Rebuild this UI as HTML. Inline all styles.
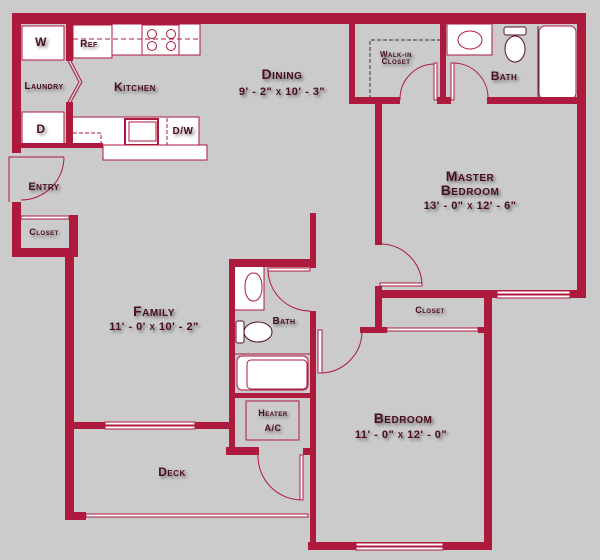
<!DOCTYPE html>
<html><head><style>
html,body{margin:0;padding:0;background:#cbcbcb;}
svg{display:block;}
text{font-family:"Liberation Sans",sans-serif;font-weight:bold;fill:#4a0f1e;font-variant:small-caps;text-anchor:middle;letter-spacing:0.5px;}
</style></head><body>
<svg width="600" height="560" viewBox="0 0 600 560" xmlns="http://www.w3.org/2000/svg">
<defs><filter id="sh" x="-20%" y="-50%" width="140%" height="200%"><feGaussianBlur in="SourceAlpha" stdDeviation="1.5"/><feOffset dx="2" dy="2"/><feComponentTransfer><feFuncA type="linear" slope="0.5"/></feComponentTransfer><feMerge><feMergeNode/><feMergeNode in="SourceGraphic"/></feMerge></filter></defs>
<rect width="600" height="560" fill="#cbcbcb"/>
<g fill="#fff" stroke="#ae1a3e" stroke-width="1">
<rect x="22" y="26" width="42" height="34"/>
<rect x="22" y="112" width="42" height="34"/>
<rect x="73" y="24" width="127" height="31"/>
<rect x="73" y="25" width="39" height="33"/>
<rect x="142" y="25" width="37" height="30"/>
<rect x="72" y="117" width="127" height="29"/>
<rect x="125" y="119" width="33" height="26" stroke-width="2"/>
<rect x="103" y="145" width="104" height="15"/>
<rect x="447" y="24" width="45" height="31"/>
<rect x="539" y="26" width="37" height="73" rx="6"/>
<rect x="234" y="266" width="30" height="44"/>
<rect x="237" y="356" width="71" height="34" rx="5"/>
<rect x="246" y="401" width="53" height="39" fill="none"/>
</g>
<g fill="none" stroke="#ae1a3e" stroke-width="1">
<line x1="73" y1="39" x2="200" y2="39" stroke-dasharray="5,3"/>
<circle cx="152" cy="34" r="4.5"/><circle cx="171" cy="34" r="4.5"/>
<circle cx="152" cy="46" r="4.5"/><circle cx="171" cy="46" r="4.5"/>
<rect x="129" y="122" width="27" height="19"/>
<line x1="167" y1="118" x2="167" y2="145" stroke-dasharray="4,2"/>
<polyline points="73,133 101,133 101,146" stroke-dasharray="4,2"/>
<ellipse cx="470" cy="40" rx="12" ry="9"/>
<rect x="245" y="273" width="17" height="28" rx="8" ry="13"/>
<rect x="247" y="360" width="60" height="29" rx="4"/>
<line x1="235" y1="354" x2="310" y2="354"/>
<line x1="538" y1="26" x2="538" y2="99" stroke="#333"/>
<polyline points="370,99 370,40 441,40" stroke="#333" stroke-dasharray="4,2"/>
<path d="M68,61 L79,82 L68,102 M71,61 L82,82 L71,102"/>
<path d="M64,157 A43,43 0 0 1 21,200"/>
<path d="M400,100 A35,35 0 0 1 435,64"/>
<path d="M454,63 A35,35 0 0 1 488,100"/>
<path d="M382,244 A42,42 0 0 1 422,286"/>
<path d="M268,270 A42,42 0 0 0 310,311"/>
<path d="M322,373 A42,42 0 0 0 362,331"/>
<path d="M258,455 A44,44 0 0 0 302,500"/>
<polyline points="9,202 9,157 64,157"/>
</g>
<g fill="#fff" stroke="#5a1020" stroke-width="1">
<rect x="504" y="27" width="22" height="8" rx="2"/>
<ellipse cx="515" cy="49" rx="10" ry="13"/>
<rect x="236" y="321" width="8" height="22" rx="2"/>
<ellipse cx="258" cy="332" rx="14" ry="10"/>
</g>
<g fill="#ae1a3e">
<rect x="12" y="13" width="574" height="11"/>
<rect x="12" y="13" width="9" height="140"/>
<rect x="12" y="202" width="9" height="55"/>
<rect x="12" y="248" width="66" height="9"/>
<rect x="69" y="215" width="9" height="42"/>
<rect x="65" y="248" width="9" height="272"/>
<rect x="65" y="512" width="21" height="8"/>
<rect x="66" y="24" width="7" height="37"/>
<rect x="66" y="102" width="7" height="46"/>
<rect x="12" y="143" width="91" height="5"/>
<rect x="349" y="24" width="6" height="80"/>
<rect x="349" y="97" width="51" height="7"/>
<rect x="440" y="24" width="6" height="80"/>
<rect x="437" y="97" width="14" height="7"/>
<rect x="487" y="97" width="99" height="7"/>
<rect x="577" y="13" width="9" height="285"/>
<rect x="375" y="104" width="7" height="141"/>
<rect x="375" y="286" width="7" height="46"/>
<rect x="375" y="290" width="211" height="8"/>
<rect x="484" y="290" width="8" height="260"/>
<rect x="308" y="542" width="184" height="8"/>
<rect x="360" y="327" width="27" height="6"/>
<rect x="478" y="327" width="10" height="6"/>
<rect x="310" y="213" width="6" height="55"/>
<rect x="229" y="259" width="87" height="8"/>
<rect x="229" y="259" width="6" height="196"/>
<rect x="310" y="311" width="6" height="239"/>
<rect x="65" y="422" width="170" height="7"/>
<rect x="235" y="393" width="75" height="5"/>
<rect x="226" y="447" width="33" height="8"/>
<rect x="303" y="448" width="13" height="7"/>
</g>
<g fill="#fff" stroke="#ae1a3e" stroke-width="1">
<rect x="105" y="422" width="90" height="3"/><rect x="105" y="426" width="90" height="3"/>
<rect x="86" y="514" width="222" height="3"/>
<rect x="497" y="291" width="73" height="3"/><rect x="497" y="295" width="73" height="3"/>
<rect x="356" y="543" width="87" height="3"/><rect x="356" y="547" width="87" height="3"/>
<rect x="387" y="328" width="91" height="3"/>
<rect x="21" y="216" width="48" height="3"/>
<rect x="434" y="63" width="3" height="37"/>
<rect x="451" y="63" width="3" height="37"/>
<rect x="380" y="283" width="42" height="3"/>
<rect x="268" y="268" width="42" height="3"/>
<rect x="318" y="330" width="4" height="43"/>
<rect x="300" y="455" width="3" height="45"/>
</g>
<g filter="url(#sh)">
<text x="41" y="46" font-size="12">W</text>
<text x="41" y="133" font-size="12">D</text>
<text x="89" y="47" font-size="10">Ref</text>
<text x="44" y="89" font-size="10">Laundry</text>
<text x="135" y="91" font-size="12">Kitchen</text>
<text x="183" y="134" font-size="10">D/W</text>
<text x="44" y="190" font-size="11">Entry</text>
<text x="44" y="235" font-size="9">Closet</text>
<text x="282" y="79" font-size="14">Dining</text>
<text x="282" y="95" font-size="11">9' - 2" x 10' - 3"</text>
<text x="396" y="57" font-size="8">Walk-in</text>
<text x="396" y="64" font-size="8">Closet</text>
<text x="504" y="80" font-size="12">Bath</text>
<text x="470" y="181" font-size="14">Master</text>
<text x="470" y="195" font-size="14">Bedroom</text>
<text x="470" y="209" font-size="11">13' - 0" x 12' - 6"</text>
<text x="154" y="316" font-size="14">Family</text>
<text x="154" y="330" font-size="11">11' - 0' x 10' - 2"</text>
<text x="284" y="324" font-size="10">Bath</text>
<text x="430" y="313" font-size="9">Closet</text>
<text x="273" y="416" font-size="9">Heater</text>
<text x="273" y="431" font-size="9">A/C</text>
<text x="172" y="476" font-size="12">Deck</text>
<text x="403" y="423" font-size="14">Bedroom</text>
<text x="401" y="438" font-size="11">11' - 0" x 12' - 0"</text>
</g>
</svg>
</body></html>
